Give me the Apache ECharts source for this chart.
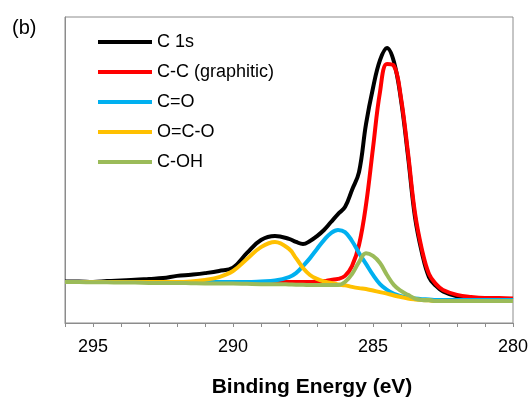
<!DOCTYPE html>
<html>
<head>
<meta charset="utf-8">
<script src="https://cdn.jsdelivr.net/npm/echarts@6/dist/echarts.min.js"></script>
<style>
  html, body {margin: 0; padding: 0; background: #fff;}
  #chart {width: 532px; height: 399px;}
</style>
</head>
<body>
<div id="chart"></div>
<script>
// binding energy (eV), shared by every curve
var energy = [296, 295.5, 295, 294.5, 294, 293.5, 293, 292.5, 292, 291.5, 291, 290.5, 290, 289.5, 289, 288.5, 288,
  287.75, 287.5, 287.25, 287, 286.75, 286.5, 286.25, 286, 285.75, 285.5, 285.25, 285, 284.75, 284.5, 284.25,
  284, 283.75, 283.5, 283.25, 283, 282.75, 282.5, 282, 281.5, 281, 280.5, 280];

var c1s = [13.6, 13.6, 13.4, 13.7, 13.9, 14.1, 14.4, 14.7, 15.4, 15.8, 16.3, 17.0, 18.1, 22.9, 27.1, 28.4, 27.5,
  26.5, 25.8, 26.8, 28.4, 30.4, 33.0, 35.6, 37.9, 43.5, 49.3, 65.0, 76.8, 85.9, 89.9, 85.3,
  72.9, 54.6, 34.6, 22.9, 15.0, 12.1, 10.3, 8.7, 8.2, 7.8, 7.7, 7.5];

var ccGraphitic = [13.4, 13.4, 13.4, 13.4, 13.4, 13.4, 13.4, 13.4, 13.4, 13.4, 13.4, 13.4, 13.4, 13.4, 13.4, 13.4, 13.4,
  13.4, 13.4, 13.4, 13.6, 13.7, 14.1, 14.4, 15.4, 18.6, 25.5, 38.6, 57.2, 75.5, 84.6, 84.0,
  73.5, 55.6, 35.9, 23.9, 16.0, 12.7, 10.8, 9.2, 8.5, 8.2, 8.2, 8.0];

var cDoubleO = [13.4, 13.4, 13.4, 13.4, 13.4, 13.4, 13.4, 13.4, 13.4, 13.4, 13.4, 13.4, 13.4, 13.4, 13.6, 13.9, 15.0,
  16.3, 18.6, 21.2, 24.2, 27.1, 29.4, 30.4, 29.7, 26.8, 22.9, 19.3, 15.7, 12.7, 10.8, 9.5,
  8.8, 8.3, 8.0, 7.8, 7.7, 7.5, 7.5, 7.5, 7.5, 7.5, 7.5, 7.5];

var oco = [13.4, 13.4, 13.4, 13.4, 13.4, 13.4, 13.4, 13.4, 13.4, 13.6, 14.1, 15.0, 17.0, 20.9, 24.8, 26.5, 24.2,
  21.2, 18.0, 15.7, 14.4, 13.6, 13.1, 12.6, 12.3, 11.8, 11.4, 11.1, 10.6, 10.1, 9.6, 9.0,
  8.5, 8.0, 7.7, 7.5, 7.4, 7.2, 7.2, 7.2, 7.2, 7.2, 7.2, 7.2];

var cOH = [13.4, 13.4, 13.3, 13.3, 13.2, 13.2, 13.1, 13.1, 13.1, 13.0, 12.9, 12.9, 12.9, 12.8, 12.7, 12.7, 12.6,
  12.5, 12.5, 12.4, 12.4, 12.4, 12.4, 12.4, 13.4, 16.0, 19.9, 22.8, 21.9, 19.6, 15.7, 12.4,
  10.5, 9.2, 8.0, 7.5, 7.4, 7.2, 7.2, 7.2, 7.2, 7.2, 7.2, 7.2];

var xLabelsShown = [295, 290, 285, 280];

var font = 'Liberation Sans, Arial, sans-serif';

function pairs(vals) {
  return energy.map(function (e, i) { return [e, vals[i]]; });
}

function curve(name, vals, color) {
  return {
    name: name,
    type: 'line',
    data: pairs(vals),
    showSymbol: false,
    smooth: 0.4,
    lineStyle: {width: 4, color: color},
    itemStyle: {color: color},
    emphasis: {disabled: true}
  };
}

var myChart = echarts.init(document.getElementById('chart'));
myChart.setOption({
  animation: false,
  textStyle: {fontFamily: font},
  grid: {
    left: 65,
    right: 19,
    top: 17,
    bottom: 76,
    show: true,
    borderColor: '#8c8c8c',
    borderWidth: 1
  },
  legend: {
    orient: 'vertical',
    left: 98,
    top: 32,
    padding: 0,
    icon: 'rect',
    itemWidth: 54,
    itemHeight: 4,
    itemGap: 10,
    textStyle: {fontFamily: font, fontSize: 18, color: '#000', lineHeight: 20},
    data: ['C 1s', 'C-C (graphitic)', 'C=O', 'O=C-O', 'C-OH']
  },
  xAxis: {
    type: 'value',
    min: 280,
    max: 296,
    interval: 1,
    inverse: true,
    axisLine: {lineStyle: {color: '#8c8c8c', width: 1}},
    axisTick: {show: true, inside: false, length: 4, lineStyle: {color: '#8c8c8c'}},
    splitLine: {show: false},
    axisLabel: {
      margin: 15,
      fontSize: 18,
      color: '#000',
      fontFamily: font,
      formatter: function (v) {
        return xLabelsShown.indexOf(v) >= 0 ? String(v) : '';
      }
    }
  },
  yAxis: {
    type: 'value',
    min: 0,
    max: 100,
    axisLine: {show: true, lineStyle: {color: '#8c8c8c'}},
    axisTick: {show: false},
    axisLabel: {show: false},
    splitLine: {show: false}
  },
  graphic: [
    {type: 'text', left: 12, top: 18, style: {text: '(b)', fontSize: 20, fontFamily: font, fill: '#000'}},
    {type: 'text', x: 312, y: 387, style: {text: 'Binding Energy (eV)', fontSize: 21, fontWeight: 'bold',
      fontFamily: font, fill: '#000', textAlign: 'center', textVerticalAlign: 'middle'}}
  ],
  series: [
    curve('C 1s', c1s, '#000000'),
    curve('C-C (graphitic)', ccGraphitic, '#ff0000'),
    curve('C=O', cDoubleO, '#00b0f0'),
    curve('O=C-O', oco, '#ffc000'),
    curve('C-OH', cOH, '#9bbb59')
  ]
});
</script>
</body>
</html>
